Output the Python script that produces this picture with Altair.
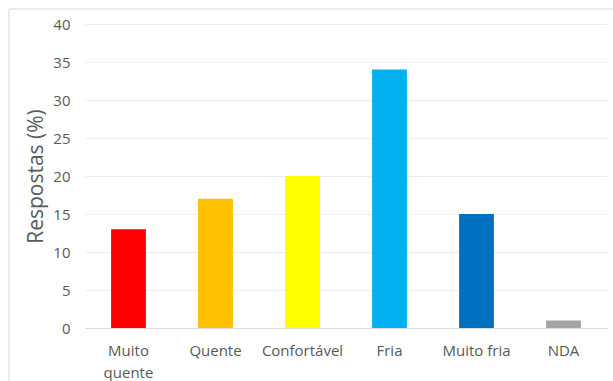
import altair as alt
import pandas as pd

categories = ["Muito quente", "Quente", "Confortável", "Fria", "Muito fria", "NDA"]
values = [13, 17, 20, 34, 15, 1]
colors = ["#FF0000", "#FFC000", "#FFFF00", "#00B0F0", "#0070C0", "#A5A5A5"]

df = pd.DataFrame({"cat": categories, "val": values, "color": colors})

FONT = "Open Sans"

bars = alt.Chart(df).mark_bar().encode(
    x=alt.X("cat:N", sort=categories, title=None,
            scale=alt.Scale(paddingInner=0.6, paddingOuter=0.3),
            axis=alt.Axis(labelAngle=0, domain=False, ticks=False, labelPadding=15,
                          labelFontSize=15, labelColor="#595959", labelFont=FONT,
                          labelExpr="datum.value == 'Muito quente' ? ['Muito', 'quente'] : datum.value",
                          labelLineHeight=22)),
    y=alt.Y("val:Q", title="Respostas (%)",
            scale=alt.Scale(domain=[0, 40]),
            axis=alt.Axis(values=list(range(0, 41, 5)), domain=False, ticks=False,
                          labelPadding=15, labelFontSize=15, labelColor="#595959",
                          labelFont=FONT, titleFont=FONT, titleFontSize=21,
                          titleFontWeight="normal", titleColor="#595959", titlePadding=6,
                          gridColor={"condition": {"test": "datum.value === 0", "value": "#D9D9D9"},
                                     "value": "#EEEEEE"},
                          labelOverlap=False)),
    color=alt.Color("color:N", scale=None),
)

frame_left = alt.Chart(pd.DataFrame({"z": [0]})).mark_rule(color="#D9D9D9").encode(
    x=alt.value(-76), y=alt.value(-15), y2=alt.value(400))
frame_top = alt.Chart(pd.DataFrame({"z": [0]})).mark_rule(color="#D9D9D9").encode(
    x=alt.value(-76), x2=alt.value(600), y=alt.value(-15))

chart = alt.layer(bars, frame_left, frame_top).properties(
    width=522, height=304,
    autosize=alt.AutoSizeParams(type="none"),
    padding={"left": 85, "top": 24, "right": 6, "bottom": 53},
    background="white",
).configure_view(stroke=None)

chart.save("out.html", embed_options={"renderer": "svg", "actions": False})
